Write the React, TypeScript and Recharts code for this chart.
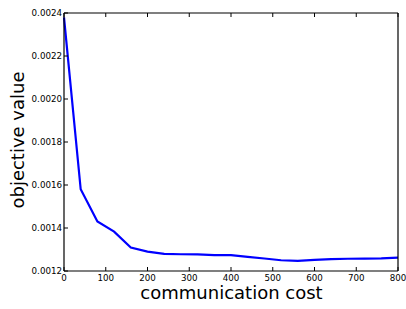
import { Line, LineChart, XAxis, YAxis } from "recharts";

const costs = [0, 40, 80, 120, 160, 200, 240, 280, 320, 360, 400, 440, 480, 520, 560, 600, 640, 680, 720, 760, 800];
const objective = [
  0.00238, 0.00158, 0.00143, 0.001383, 0.001309, 0.00129, 0.00128, 0.001278, 0.001277, 0.001274,
  0.001274, 0.001266, 0.001258, 0.00125, 0.001247, 0.001252, 0.001255, 0.001257, 0.001258,
  0.001259, 0.001262,
];
const xTicks = [0, 100, 200, 300, 400, 500, 600, 700, 800];
const yTicks = [0.0012, 0.0014, 0.0016, 0.0018, 0.002, 0.0022, 0.0024];

const data = costs.map((c, i) => ({ cost: c, value: objective[i] }));

const FONT = "DejaVu Sans, sans-serif";
const tickStyle = { fontSize: 8.7, fill: "#000", fontFamily: FONT };
const blank = () => "";

export default function App() {
  return (
    <div style={{ position: "absolute", left: 0, top: 0 }}>
      <LineChart
        width={406}
        height={309}
        data={data}
        margin={{ top: 12, right: 7, bottom: 0, left: 0 }}
      >
        <XAxis
          xAxisId="b"
          dataKey="cost"
          type="number"
          domain={[0, 800]}
          ticks={xTicks}
          height={38}
          tickSize={-4}
          tickMargin={8}
          tick={tickStyle}
          stroke="#000"
          axisLine={{ stroke: "#000", strokeWidth: 1.2 }}
          tickLine={{ stroke: "#000" }}
          label={{
            content: () => (
              <text x={231.5} y={299} textAnchor="middle" fontSize={18} fontFamily={FONT} fill="#000">
                communication cost
              </text>
            ),
          }}
        />
        <XAxis
          xAxisId="t"
          orientation="top"
          dataKey="cost"
          type="number"
          domain={[0, 800]}
          ticks={xTicks}
          height={1}
          tickSize={-4}
          tickFormatter={blank}
          axisLine={{ stroke: "#000", strokeWidth: 1.2 }}
          tickLine={{ stroke: "#000" }}
        />
        <YAxis
          yAxisId="l"
          type="number"
          domain={[0.0012, 0.0024]}
          ticks={yTicks}
          width={64}
          tickSize={-4}
          tickMargin={6}
          tick={tickStyle}
          tickFormatter={(v: number) => v.toFixed(4)}
          axisLine={{ stroke: "#000", strokeWidth: 1.2 }}
          tickLine={{ stroke: "#000" }}
          allowDataOverflow
          label={{
            content: () => (
              <text
                x={24}
                y={140}
                textAnchor="middle"
                fontSize={18}
                fontFamily={FONT}
                fill="#000"
                transform="rotate(-90 24 140)"
              >
                objective value
              </text>
            ),
          }}
        />
        <YAxis
          yAxisId="r"
          orientation="right"
          type="number"
          domain={[0.0012, 0.0024]}
          ticks={yTicks}
          width={1}
          tickSize={-4}
          tickFormatter={blank}
          axisLine={{ stroke: "#000", strokeWidth: 1.2 }}
          tickLine={{ stroke: "#000" }}
        />
        <Line
          xAxisId="b"
          yAxisId="l"
          dataKey="value"
          type="linear"
          stroke="#0000ff"
          strokeWidth={2.2}
          dot={false}
          isAnimationActive={false}
        />
      </LineChart>
    </div>
  );
}
